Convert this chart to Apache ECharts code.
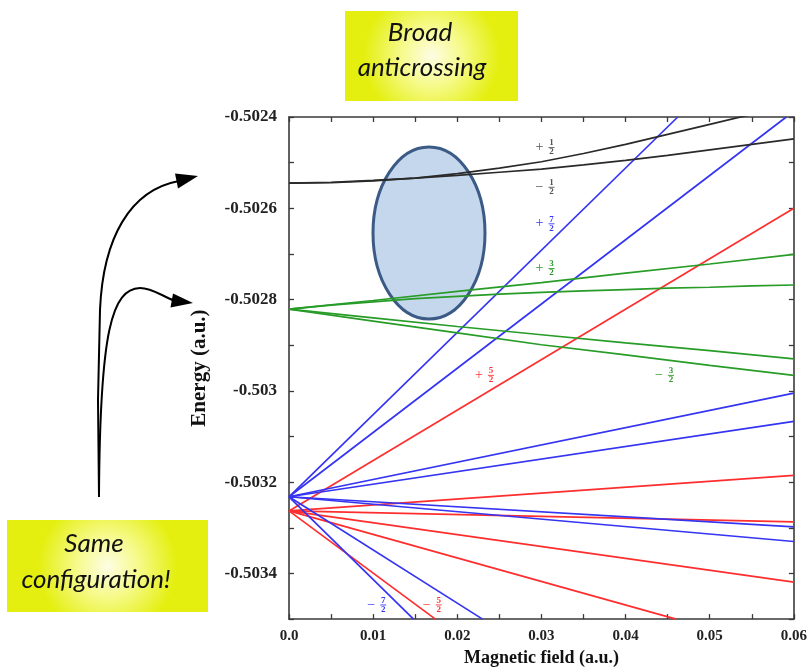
<!DOCTYPE html>
<html>
<head>
<meta charset="utf-8">
<script src="https://cdn.jsdelivr.net/npm/echarts@6/dist/echarts.min.js"></script>
<style>
html,body{margin:0;padding:0;background:#fff;}
#c{width:810px;height:672px;}
</style>
</head>
<body>
<div id="c"></div>
<script>
// ---------- data ----------
const xTickLabels = ['0.0', '0.01', '0.02', '0.03', '0.04', '0.05', '0.06'];
const yTickValues = [-5034, -5032, -5030, -5028, -5026, -5024];
const yTickLabels = ['-0.5034', '-0.5032', '-0.503', '-0.5028', '-0.5026', '-0.5024'];

const blackUpper = [[0,-0.502545],[0.005,-0.502544],[0.01,-0.502540],[0.015,-0.502534],[0.02,-0.502524],[0.025,-0.502512],[0.03,-0.502498],[0.035,-0.502480],[0.04,-0.502460],[0.045,-0.502438],[0.05,-0.502416],[0.055,-0.502394],[0.06,-0.502372]];
const blackLower = [[0,-0.502545],[0.005,-0.502543],[0.01,-0.502539],[0.015,-0.502534],[0.02,-0.502528],[0.025,-0.502521],[0.03,-0.502514],[0.035,-0.502505],[0.04,-0.502495],[0.045,-0.502484],[0.05,-0.502472],[0.055,-0.502460],[0.06,-0.502448]];

const greenLines = [
  [[0,-0.502821],[0.01,-0.502802],[0.02,-0.502782],[0.03,-0.502763],[0.04,-0.502742],[0.05,-0.502722],[0.06,-0.502701]],
  [[0,-0.502821],[0.005,-0.502812],[0.01,-0.502805],[0.015,-0.502798],[0.02,-0.502793],[0.025,-0.502788],[0.03,-0.502784],[0.035,-0.502781],[0.04,-0.502778],[0.045,-0.502775],[0.05,-0.502773],[0.055,-0.502770],[0.06,-0.502768]],
  [[0,-0.502821],[0.01,-0.502840],[0.02,-0.502859],[0.03,-0.502877],[0.04,-0.502895],[0.05,-0.502912],[0.06,-0.502930]],
  [[0,-0.502821],[0.01,-0.502847],[0.02,-0.502873],[0.03,-0.502899],[0.04,-0.502921],[0.05,-0.502944],[0.06,-0.502966]]
];

const blueLines = [
  [[0,-0.503232],[0.0462,-0.5024]],
  [[0,-0.503232],[0.0591,-0.5024]],
  [[0,-0.503232],[0.06,-0.503005]],
  [[0,-0.503232],[0.06,-0.503067]],
  [[0,-0.503232],[0.06,-0.503298]],
  [[0,-0.503232],[0.06,-0.503330]],
  [[0,-0.503232],[0.0230,-0.5035]],
  [[0,-0.503232],[0.0148,-0.5035]]
];

const redLines = [
  [[0,-0.503263],[0.06,-0.502600]],
  [[0,-0.503263],[0.06,-0.503185]],
  [[0,-0.503263],[0.06,-0.503287]],
  [[0,-0.503263],[0.06,-0.503419]],
  [[0,-0.503263],[0.0460,-0.5035]],
  [[0,-0.503263],[0.0174,-0.5035]]
];

// state labels: anchor (fraction centre) in data units
const labelX    = [0.0312, 0.0312, 0.0312, 0.0312, 0.0240, 0.0454, 0.0112, 0.0178];
const labelY    = [-0.502467, -0.502554, -0.502634, -0.502732, -0.502966, -0.502966, -0.503469, -0.503469];
const labelSign = ['+', '−', '+', '+', '+', '−', '−', '−'];
const labelNum  = ['1', '1', '7', '3', '5', '3', '7', '5'];
const labelDen  = ['2', '2', '2', '2', '2', '2', '2', '2'];
const labelKind = ['black', 'black', 'blue', 'green', 'red', 'green', 'blue', 'red'];

// ---------- styles ----------
const COLORS = { black: '#2a2a2a', blue: '#3434f2', red: '#ff2e2e', green: '#279c27' };
const LABEL_COLORS = { black: '#555555', blue: '#3a3af0', red: '#ff3535', green: '#2e9a2e' };
const SERIF = '"Liberation Serif", "DejaVu Serif", serif';

const chart = echarts.init(document.getElementById('c'), null, { renderer: 'canvas' });

function lineSeries(data, color) {
  return {
    type: 'line', data: data, xAxisIndex: 0, yAxisIndex: 0,
    showSymbol: false, symbol: 'none', clip: true, smooth: false,
    lineStyle: { color: color, width: 1.7 }, silent: true, animation: false
  };
}

const series = [];
redLines.forEach(d => series.push(lineSeries(d, COLORS.red)));
blueLines.forEach(d => series.push(lineSeries(d, COLORS.blue)));
greenLines.forEach(d => series.push(lineSeries(d, COLORS.green)));
series.push(lineSeries(blackUpper, COLORS.black));
series.push(lineSeries(blackLower, COLORS.black));

const frame = { show: true, onZero: false, lineStyle: { color: '#3a3a3a', width: 1.6 } };
const tick = { show: true, inside: true, length: 5, lineStyle: { color: '#3a3a3a', width: 1.3 } };

function xFmt(v) {
  const k = Math.round(v / 0.005);
  return (k % 2 === 0) ? (xTickLabels[k / 2] || '') : '';
}
function yFmt(v) {
  const k = Math.round(v * 10000);
  const i = yTickValues.indexOf(k);
  return i >= 0 ? yTickLabels[i] : '';
}

chart.setOption({
  animation: false,
  backgroundColor: '#ffffff',
  grid: { left: 289, top: 117, right: 13, bottom: 48, containLabel: false },
  xAxis: [
    {
      type: 'value', min: 0, max: 0.06, interval: 0.005, position: 'bottom',
      axisLine: frame, axisTick: tick, splitLine: { show: false },
      axisLabel: { formatter: xFmt, fontFamily: SERIF, fontWeight: 'bold', fontSize: 15, color: '#222', margin: 10 },
      name: 'Magnetic field (a.u.)', nameLocation: 'middle', nameGap: 28,
      nameTextStyle: { fontFamily: SERIF, fontWeight: 'bold', fontSize: 18, color: '#111' }
    },
    {
      type: 'value', min: 0, max: 0.06, interval: 0.005, position: 'top',
      axisLine: frame, axisTick: tick, splitLine: { show: false }, axisLabel: { show: false }
    }
  ],
  yAxis: [
    {
      type: 'value', min: -0.5035, max: -0.5024, interval: 0.0001, position: 'left',
      axisLine: frame, axisTick: tick, splitLine: { show: false },
      axisLabel: { formatter: yFmt, fontFamily: SERIF, fontWeight: 'bold', fontSize: 17, color: '#222', margin: 12 },
      name: 'Energy (a.u.)', nameLocation: 'middle', nameGap: 79, nameRotate: 90,
      nameTextStyle: { fontFamily: SERIF, fontWeight: 'bold', fontSize: 21, color: '#111' }
    },
    {
      type: 'value', min: -0.5035, max: -0.5024, interval: 0.0001, position: 'right',
      axisLine: frame, axisTick: tick, splitLine: { show: false }, axisLabel: { show: false }
    }
  ],
  series: series
});

// ---------- annotations ----------
const graphics = [];

// highlight ellipse (under the curves)
graphics.push({
  type: 'ellipse', z: 1, silent: true,
  shape: { cx: 429, cy: 233, rx: 56, ry: 86 },
  style: { fill: '#c5d7ed', stroke: '#3b5b86', lineWidth: 3 }
});

// yellow note boxes
function yellowBox(x, y, w, h) {
  return {
    type: 'rect', z: 20, silent: true,
    shape: { x: x, y: y, width: w, height: h },
    style: {
      fill: new echarts.graphic.RadialGradient(0.5, 0.5, 0.75, [
        { offset: 0, color: '#fdfde4' },
        { offset: 0.45, color: '#f6fa8a' },
        { offset: 1, color: '#e4ef10' }
      ])
    }
  };
}
function boxText(t, x, y) {
  return {
    type: 'text', z: 21, silent: true,
    style: { text: t, x: x, y: y, align: 'center', verticalAlign: 'middle', textAlign: 'center', textVerticalAlign: 'middle',
             font: 'italic 26px Lato, "Open Sans", sans-serif', fill: '#111' }
  };
}
graphics.push(yellowBox(345, 11, 173, 90));
graphics.push(boxText('Broad', 420, 33));
graphics.push(boxText('anticrossing', 422, 68));
graphics.push(yellowBox(7, 520, 201, 92));
graphics.push(boxText('Same', 94, 544));
graphics.push(boxText('configuration!', 96, 580));

// curved arrows
const arrowStyle = { stroke: '#000', lineWidth: 2, fill: null };
graphics.push({ type: 'polyline', z: 20, silent: true, shape: { points: [[99, 497], [98, 400], [100, 310]] }, style: arrowStyle });
graphics.push({ type: 'bezierCurve', z: 20, silent: true,
  shape: { x1: 100, y1: 310, cpx1: 103, cpy1: 238, cpx2: 130, cpy2: 190, x2: 179, y2: 181 }, style: arrowStyle });
graphics.push({ type: 'polygon', z: 20, silent: true,
  shape: { points: [[198, 176], [178, 188.5], [175, 173.5]] }, style: { fill: '#000' } });

graphics.push({ type: 'bezierCurve', z: 20, silent: true,
  shape: { x1: 99, y1: 495, cpx1: 100, cpy1: 330, cpx2: 112, cpy2: 289, x2: 140, y2: 288 }, style: arrowStyle });
graphics.push({ type: 'bezierCurve', z: 20, silent: true,
  shape: { x1: 140, y1: 288, cpx1: 152, cpy1: 288, cpx2: 162, cpy2: 296, x2: 174, y2: 300.5 }, style: arrowStyle });
graphics.push({ type: 'polygon', z: 20, silent: true,
  shape: { points: [[193, 303], [170.5, 307.5], [173, 293.5]] }, style: { fill: '#000' } });

// state labels: sign + stacked fraction, anchored through the axes
for (let i = 0; i < labelX.length; i++) {
  const p = chart.convertToPixel({ xAxisIndex: 0, yAxisIndex: 0 }, [labelX[i], labelY[i]]);
  const col = LABEL_COLORS[labelKind[i]];
  graphics.push({
    type: 'group', x: p[0], y: p[1], z: 15, silent: true,
    children: [
      { type: 'text', style: { text: labelSign[i], x: -12, y: 0, align: 'center', verticalAlign: 'middle', textAlign: 'center', textVerticalAlign: 'middle', font: '14px ' + SERIF, fill: col } },
      { type: 'text', style: { text: labelNum[i], x: 0, y: -4.5, align: 'center', verticalAlign: 'middle', textAlign: 'center', textVerticalAlign: 'middle', font: 'bold 9px ' + SERIF, fill: col } },
      { type: 'line', shape: { x1: -3, y1: 0, x2: 3, y2: 0 }, style: { stroke: col, lineWidth: 0.9 } },
      { type: 'text', style: { text: labelDen[i], x: 0, y: 4.5, align: 'center', verticalAlign: 'middle', textAlign: 'center', textVerticalAlign: 'middle', font: 'bold 9px ' + SERIF, fill: col } }
    ]
  });
}

chart.setOption({ graphic: graphics });
</script>
</body>
</html>
